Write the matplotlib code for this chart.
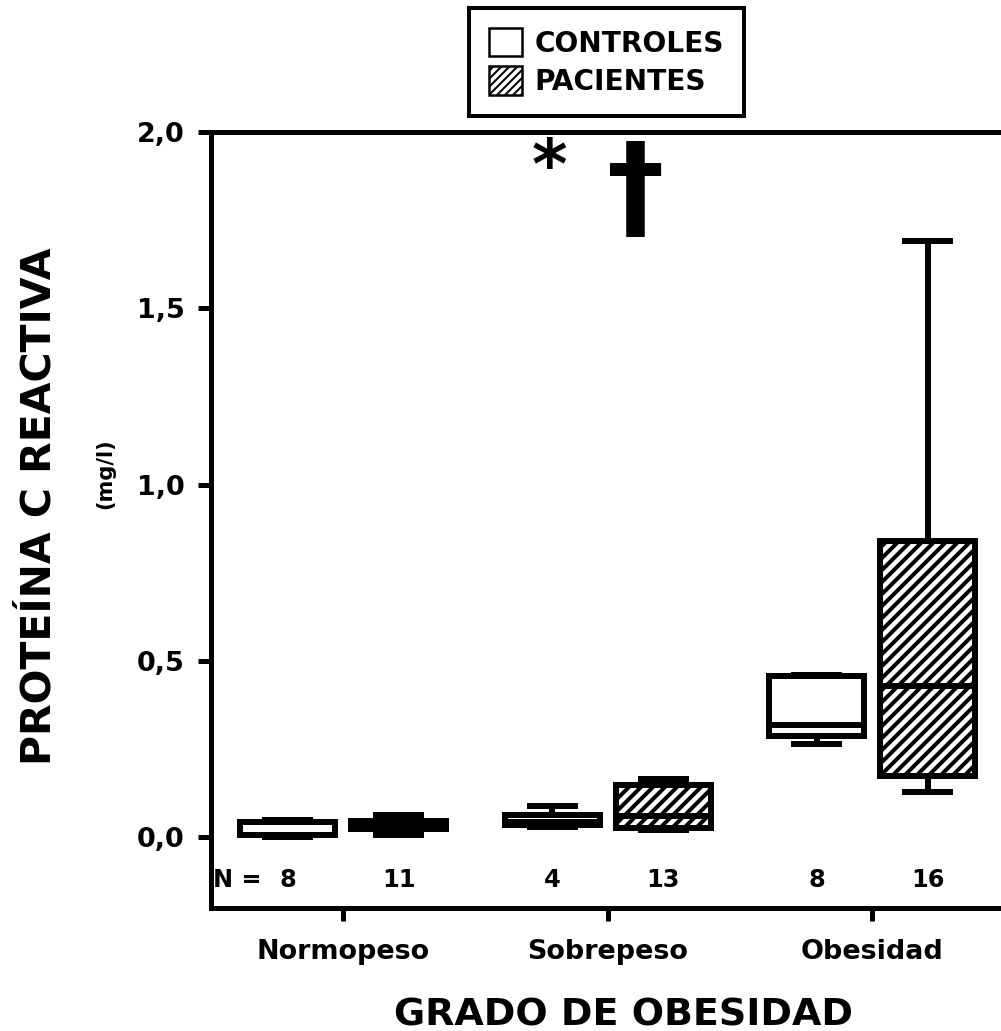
import matplotlib
matplotlib.use("Agg")
import matplotlib.pyplot as plt
from matplotlib.patches import Patch

# ---- data ----
categories = ["Normopeso", "Sobrepeso", "Obesidad"]
series = ["CONTROLES", "PACIENTES"]
n_controles = [8, 4, 8]
n_pacientes = [11, 13, 16]

ctrl_whislo = [0.000, 0.030, 0.265]
ctrl_q1     = [0.006, 0.034, 0.289]
ctrl_med    = [0.008, 0.045, 0.318]
ctrl_q3     = [0.043, 0.065, 0.457]
ctrl_whishi = [0.050, 0.088, 0.460]

pac_whislo = [0.006, 0.020, 0.128]
pac_q1     = [0.023, 0.028, 0.173]
pac_med    = [0.040, 0.062, 0.428]
pac_q3     = [0.048, 0.150, 0.840]
pac_whishi = [0.065, 0.167, 1.690]

yticks = [0.0, 0.5, 1.0, 1.5, 2.0]
ytick_labels = ["0,0", "0,5", "1,0", "1,5", "2,0"]

DPI = 72
plt.rcParams["font.family"] = ["DejaVu Sans"]
plt.rcParams["font.weight"] = "bold"
plt.rcParams["hatch.linewidth"] = 4.0

fig = plt.figure(figsize=(1001 / DPI, 1031 / DPI), dpi=DPI)
ax = fig.add_axes([211 / 1001, 123 / 1031, 793.5 / 1001, 776 / 1031])

def stats(wl, q1, med, q3, wh):
    return [dict(whislo=a, q1=b, med=c, q3=d, whishi=e, fliers=[])
            for a, b, c, d, e in zip(wl, q1, med, q3, wh)]

off = 0.21
pos = list(range(1, len(categories) + 1))
lw = 6
common = dict(widths=0.36, patch_artist=True, showfliers=False,
              capwidths=0.17,
              whiskerprops=dict(color="black", lw=lw),
              capprops=dict(color="black", lw=lw),
              medianprops=dict(color="black", lw=lw),
              manage_ticks=False)

ax.bxp(stats(ctrl_whislo, ctrl_q1, ctrl_med, ctrl_q3, ctrl_whishi),
       positions=[p - off for p in pos],
       boxprops=dict(facecolor="white", edgecolor="black", lw=lw), **common)
ax.bxp(stats(pac_whislo, pac_q1, pac_med, pac_q3, pac_whishi),
       positions=[p + off for p in pos],
       boxprops=dict(facecolor="white", edgecolor="black", lw=lw, hatch="//"), **common)

ax.set_xlim(0.5, 3.5)
ax.set_ylim(-0.2, 2.0)
ax.set_yticks(yticks)
ax.set_yticklabels(ytick_labels, fontsize=27, fontweight="bold")
ax.set_xticks(pos)
ax.set_xticklabels(categories, fontsize=27, fontweight="bold")
ax.tick_params(axis="both", direction="out", length=13, width=5)
ax.tick_params(axis="y", pad=13)
ax.tick_params(axis="x", pad=18)
for s in ["left", "top", "bottom"]:
    ax.spines[s].set_linewidth(5)
ax.spines["right"].set_visible(False)

# N labels
ax.text(0.508, -0.122, "N =", fontsize=24, fontweight="bold", ha="left", va="center")
for p, nc, npac in zip(pos, n_controles, n_pacientes):
    ax.text(p - off, -0.122, str(nc), fontsize=24, fontweight="bold", ha="center", va="center")
    ax.text(p + off, -0.122, str(npac), fontsize=24, fontweight="bold", ha="center", va="center")

# significance marks
ax.text(1.778, 1.895, "*", fontsize=68, fontweight="bold", ha="center", va="center")
ax.text(2.107, 1.823, "\u2020", fontsize=115, fontweight="bold", ha="center", va="center")

# labels
fig.text(40 / 1001, 1 - 506 / 1031, "PROTEÍNA C REACTIVA", rotation=90,
         fontsize=41, fontweight="bold", ha="center", va="center")
fig.text(105 / 1001, 1 - 474 / 1031, "(mg/l)", rotation=90,
         fontsize=21, fontweight="bold", ha="center", va="center")
fig.text(623 / 1001, 1 - 1015 / 1031, "GRADO DE OBESIDAD",
         fontsize=38, fontweight="bold", ha="center", va="center")

# legend (thinner hatch for the small handle)
with plt.rc_context({"hatch.linewidth": 2.0}):
    h1 = Patch(facecolor="white", edgecolor="black", lw=2.5)
    h2 = Patch(facecolor="white", edgecolor="black", lw=2.5, hatch="///")
    leg = fig.legend([h1, h2], series, loc="upper center",
                     bbox_to_anchor=(606.5 / 1001, 1 - 8 / 1031),
                     frameon=True, fancybox=False, framealpha=1,
                     prop=dict(weight="bold", size=28),
                     handlelength=1.18, handleheight=1.18, handletextpad=0.43,
                     borderpad=0.72, labelspacing=0.3, borderaxespad=0)
leg.get_frame().set_edgecolor("black")
leg.get_frame().set_linewidth(4)

fig.savefig("out.png", dpi=DPI)
